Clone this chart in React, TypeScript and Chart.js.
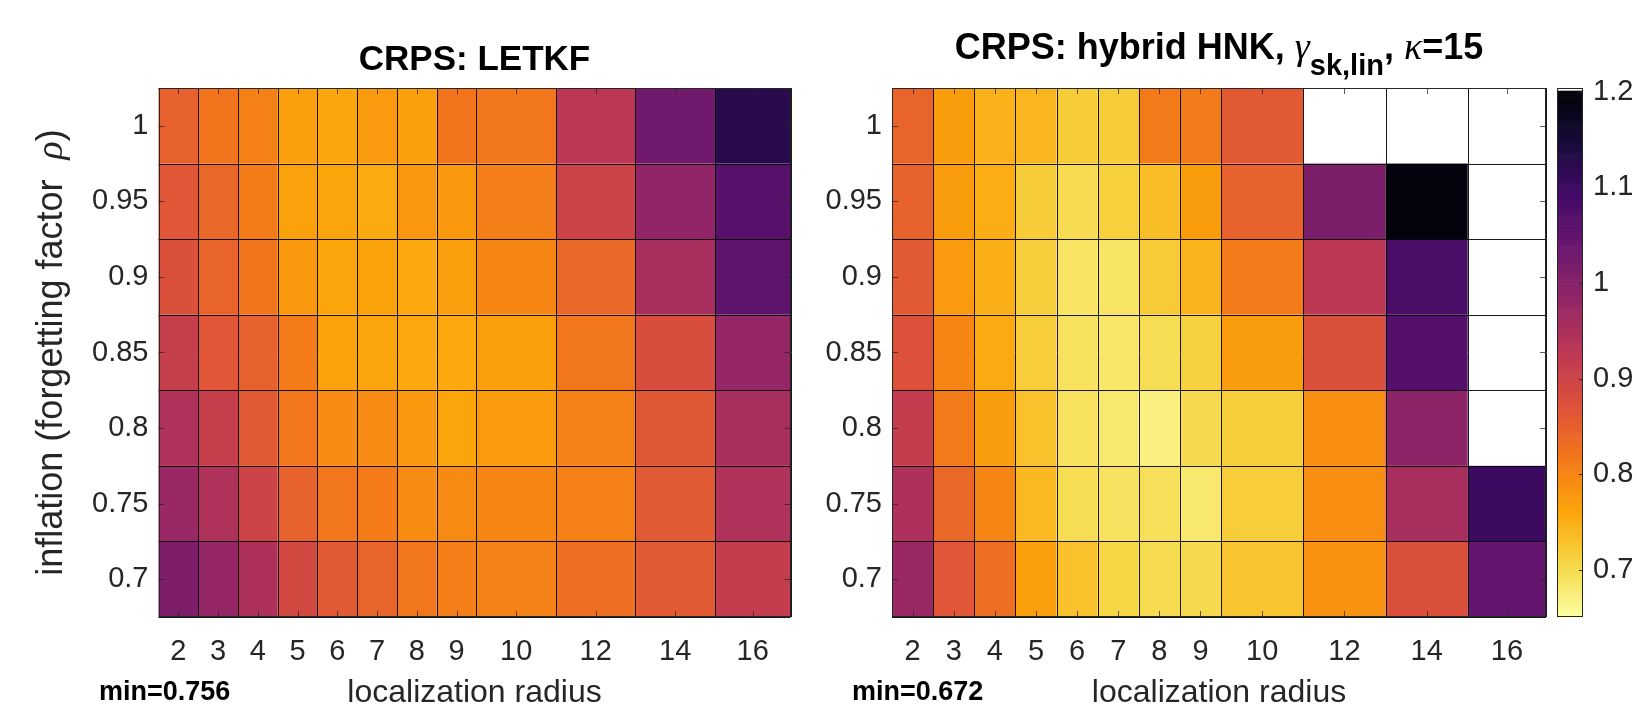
import React, { useEffect, useRef } from "react";
import { Chart, registerables } from "chart.js";

Chart.register(...registerables);

// ---------------- data ----------------
const radiusLabels = ["2", "3", "4", "5", "6", "7", "8", "9", "10", "12", "14", "16"];
const inflationRho = [1, 0.95, 0.9, 0.85, 0.8, 0.75, 0.7];

// CRPS, LETKF (rows: rho = 1 ... 0.7, columns: radius 2 ... 16)
const letkfCrps: number[][] = [
  [0.850, 0.823, 0.807, 0.768, 0.760, 0.775, 0.768, 0.823, 0.820, 0.927, 1.030, 1.125],
  [0.865, 0.840, 0.812, 0.766, 0.762, 0.756, 0.778, 0.776, 0.810, 0.900, 0.985, 1.065],
  [0.875, 0.845, 0.823, 0.776, 0.762, 0.765, 0.758, 0.768, 0.800, 0.840, 0.955, 1.055],
  [0.910, 0.865, 0.850, 0.812, 0.765, 0.762, 0.758, 0.758, 0.768, 0.820, 0.880, 0.980],
  [0.945, 0.910, 0.860, 0.820, 0.793, 0.795, 0.776, 0.762, 0.774, 0.805, 0.862, 0.955],
  [0.975, 0.945, 0.900, 0.848, 0.820, 0.813, 0.792, 0.795, 0.800, 0.806, 0.860, 0.945],
  [1.011, 0.980, 0.948, 0.890, 0.860, 0.845, 0.820, 0.810, 0.805, 0.830, 0.858, 0.915],
];

// CRPS, hybrid HNK (null = diverged, drawn with the top (white) colour of the map)
const hybridCrps: (number | null)[][] = [
  [0.845, 0.772, 0.748, 0.743, 0.718, 0.718, 0.815, 0.815, 0.860, null, null, null],
  [0.848, 0.772, 0.753, 0.718, 0.700, 0.714, 0.735, 0.772, 0.848, 1.013, 1.195, null],
  [0.860, 0.775, 0.750, 0.715, 0.690, 0.688, 0.720, 0.745, 0.815, 0.925, 1.080, null],
  [0.873, 0.800, 0.755, 0.717, 0.693, 0.686, 0.698, 0.712, 0.772, 0.875, 1.067, null],
  [0.914, 0.815, 0.772, 0.730, 0.693, 0.683, 0.672, 0.703, 0.715, 0.790, 0.990, null],
  [0.948, 0.840, 0.800, 0.740, 0.698, 0.692, 0.695, 0.683, 0.717, 0.790, 0.955, 1.100],
  [0.975, 0.865, 0.830, 0.768, 0.730, 0.707, 0.700, 0.703, 0.727, 0.785, 0.875, 1.047],
];

const colorbarTicks = [0.7, 0.8, 0.9, 1, 1.1, 1.2];
const colorMin = 0.651;
const colorMax = 1.204;
const letkfMin = "min=0.756";
const hybridMin = "min=0.672";

// ---------------- layout / style ----------------
// relative width of each column cell on the x axis
const COLUMN_SPAN = [1, 1, 1, 1, 1, 1, 1, 1, 2, 2, 2, 1.9];
const COL_EDGES: number[] = [0];
COLUMN_SPAN.forEach((s, i) => COL_EDGES.push(COL_EDGES[i] + s));
const COL_CENTERS = COLUMN_SPAN.map((s, i) => COL_EDGES[i] + s / 2);
const ROW_HALF = 0.025;

const FONT = "'Liberation Sans', Arial, Helvetica, sans-serif";
const SERIF = "'Liberation Serif', 'DejaVu Serif', serif";
const TXT = "#262626";
const TICK_SIZE = 29;
const XLABEL_SIZE = 32;
const YLABEL_SIZE = 36;
const CANVAS_H = 707;
const PLOT_TOP = 88;
const PLOT_BOTTOM = 617;

const INFERNO: [number, number, number][] = [
  [0, 0, 4], [22, 11, 57], [66, 10, 104], [106, 23, 110], [147, 38, 103],
  [188, 55, 84], [221, 81, 58], [243, 120, 25], [252, 165, 10], [246, 215, 70], [252, 255, 164],
];

function inferno(s: number): string {
  const t = Math.max(0, Math.min(1, s)) * (INFERNO.length - 1);
  const i = Math.min(INFERNO.length - 2, Math.floor(t));
  const f = t - i;
  const a = INFERNO[i], b = INFERNO[i + 1];
  const c = a.map((v, k) => Math.round(v + (b[k] - v) * f));
  return `rgb(${c[0]},${c[1]},${c[2]})`;
}

// reversed inferno between colorMin and colorMax; values past the top are white
function colorFor(v: number | null): string {
  if (v === null || v >= colorMax - 0.002) return "#ffffff";
  const t = (v - colorMin) / (colorMax - colorMin);
  return inferno(1 - t);
}

function fmt(v: number): string {
  return String(Math.round(v * 1000) / 1000);
}

type TitlePiece = { text: string; font: string; dy?: number };

function drawPieces(ctx: CanvasRenderingContext2D, pieces: TitlePiece[], cx: number, y: number, color: string) {
  let total = 0;
  const widths = pieces.map((p) => {
    ctx.font = p.font;
    const w = ctx.measureText(p.text).width;
    total += w;
    return w;
  });
  let x = cx - total / 2;
  ctx.fillStyle = color;
  ctx.textAlign = "left";
  ctx.textBaseline = "alphabetic";
  pieces.forEach((p, i) => {
    ctx.font = p.font;
    ctx.fillText(p.text, x, y + (p.dy || 0));
    x += widths[i];
  });
}

function makeHeatmapConfig(
  values: (number | null)[][],
  yAxisWidth: number,
  padRight: number,
  title: TitlePiece[],
  titleBaseline: number,
  minText: string,
  minX: number,
  withYLabel: boolean
): any {
  const points: { x: number; y: number; v: number | null }[] = [];
  values.forEach((row, r) =>
    row.forEach((v, c) => points.push({ x: COL_CENTERS[c], y: inflationRho[r], v }))
  );

  const heatmap = {
    id: "heatmapCells",
    beforeDatasetsDraw(chart: any) {
      const { ctx, scales } = chart;
      const xs = scales.x, ys = scales.y;
      ctx.save();
      values.forEach((row, r) =>
        row.forEach((v, c) => {
          const x0 = xs.getPixelForValue(COL_EDGES[c]);
          const x1 = xs.getPixelForValue(COL_EDGES[c + 1]);
          const y0 = ys.getPixelForValue(inflationRho[r] + ROW_HALF);
          const y1 = ys.getPixelForValue(inflationRho[r] - ROW_HALF);
          ctx.fillStyle = colorFor(v);
          ctx.fillRect(x0, y0, x1 - x0, y1 - y0);
        })
      );
      // cell edges
      ctx.strokeStyle = "rgba(0,0,0,0.9)";
      ctx.lineWidth = 1;
      ctx.beginPath();
      COL_EDGES.forEach((e) => {
        const px = Math.round(xs.getPixelForValue(e)) + 0.5;
        ctx.moveTo(px, ys.getPixelForValue(inflationRho[0] + ROW_HALF));
        ctx.lineTo(px, ys.getPixelForValue(inflationRho[inflationRho.length - 1] - ROW_HALF));
      });
      inflationRho.forEach((rho, i) => {
        const edges = i === 0 ? [rho + ROW_HALF, rho - ROW_HALF] : [rho - ROW_HALF];
        edges.forEach((e) => {
          const py = Math.round(ys.getPixelForValue(e)) + 0.5;
          ctx.moveTo(xs.getPixelForValue(COL_EDGES[0]), py);
          ctx.lineTo(xs.getPixelForValue(COL_EDGES[COL_EDGES.length - 1]), py);
        });
      });
      ctx.stroke();
      ctx.restore();
    },
    afterDraw(chart: any) {
      const { ctx, scales, chartArea } = chart;
      const xs = scales.x, ys = scales.y;
      ctx.save();
      // box
      ctx.strokeStyle = TXT;
      ctx.lineWidth = 1;
      ctx.strokeRect(
        Math.round(chartArea.left) + 0.5,
        Math.round(chartArea.top) + 0.5,
        Math.round(chartArea.right - chartArea.left) - 1,
        Math.round(chartArea.bottom - chartArea.top) - 1
      );
      // inward tick marks
      ctx.strokeStyle = "rgba(38,38,38,0.75)";
      ctx.beginPath();
      const L = 6;
      COL_CENTERS.forEach((c) => {
        const px = Math.round(xs.getPixelForValue(c)) + 0.5;
        ctx.moveTo(px, chartArea.bottom);
        ctx.lineTo(px, chartArea.bottom - L);
        ctx.moveTo(px, chartArea.top);
        ctx.lineTo(px, chartArea.top + L);
      });
      inflationRho.forEach((rho) => {
        const py = Math.round(ys.getPixelForValue(rho)) + 0.5;
        ctx.moveTo(chartArea.left, py);
        ctx.lineTo(chartArea.left + L, py);
        ctx.moveTo(chartArea.right, py);
        ctx.lineTo(chartArea.right - L, py);
      });
      ctx.stroke();

      const cx = (chartArea.left + chartArea.right) / 2;
      // title
      drawPieces(ctx, title, cx, titleBaseline, "#000");
      // x label
      drawPieces(ctx, [{ text: "localization radius", font: `${XLABEL_SIZE}px ${FONT}` }], cx, 702, TXT);
      // min text
      ctx.font = `bold 27px ${FONT}`;
      ctx.fillStyle = "#000";
      ctx.textAlign = "left";
      ctx.fillText(minText, minX, 700);
      // y label
      if (withYLabel) {
        ctx.save();
        ctx.translate(50, (chartArea.top + chartArea.bottom) / 2);
        ctx.rotate(-Math.PI / 2);
        drawPieces(
          ctx,
          [
            { text: "inflation (forgetting factor  ", font: `${YLABEL_SIZE}px ${FONT}` },
            { text: "ρ", font: `italic ${YLABEL_SIZE + 2}px ${SERIF}` },
            { text: ")", font: `${YLABEL_SIZE}px ${FONT}` },
          ],
          0,
          12,
          TXT
        );
        ctx.restore();
      }
      ctx.restore();
    },
  };

  return {
    type: "scatter",
    data: {
      datasets: [{ data: points, pointRadius: 0, pointHoverRadius: 0 }],
    },
    plugins: [heatmap],
    options: {
      responsive: false,
      animation: false,
      devicePixelRatio: 1,
      events: [],
      layout: { padding: { top: PLOT_TOP, right: padRight, left: 0, bottom: 0 } },
      plugins: { legend: { display: false }, tooltip: { enabled: false }, title: { display: false } },
      scales: {
        x: {
          type: "linear",
          min: COL_EDGES[0],
          max: COL_EDGES[COL_EDGES.length - 1],
          grid: { display: false, drawTicks: false },
          border: { display: false },
          afterBuildTicks: (s: any) => {
            s.ticks = COL_CENTERS.map((v) => ({ value: v }));
          },
          afterFit: (s: any) => {
            s.height = CANVAS_H - PLOT_BOTTOM;
          },
          ticks: {
            autoSkip: false,
            maxRotation: 0,
            padding: 18,
            color: TXT,
            font: { family: FONT, size: TICK_SIZE },
            callback: (_v: any, i: number) => radiusLabels[i],
          },
        },
        y: {
          type: "linear",
          min: inflationRho[inflationRho.length - 1] - ROW_HALF,
          max: inflationRho[0] + ROW_HALF,
          grid: { display: false, drawTicks: false },
          border: { display: false },
          afterBuildTicks: (s: any) => {
            s.ticks = inflationRho.map((v) => ({ value: v }));
          },
          afterFit: (s: any) => {
            s.width = yAxisWidth;
          },
          ticks: {
            padding: 10,
            color: TXT,
            font: { family: FONT, size: TICK_SIZE },
            callback: (v: any) => fmt(Number(v)),
          },
        },
      },
    },
  };
}

function makeColorbarConfig(): any {
  const bar = {
    id: "colorbarFill",
    beforeDatasetsDraw(chart: any) {
      const { ctx, scales, chartArea } = chart;
      const ys = scales.y;
      const N = 256;
      ctx.save();
      for (let i = 0; i < N; i++) {
        const v0 = colorMin + ((colorMax - colorMin) * i) / N;
        const v1 = colorMin + ((colorMax - colorMin) * (i + 1)) / N;
        const p0 = ys.getPixelForValue(v0);
        const p1 = ys.getPixelForValue(v1);
        ctx.fillStyle = i === N - 1 ? "#ffffff" : colorFor((v0 + v1) / 2);
        ctx.fillRect(chartArea.left, p1, chartArea.right - chartArea.left, p0 - p1 + 0.6);
      }
      ctx.restore();
    },
    afterDraw(chart: any) {
      const { ctx, scales, chartArea } = chart;
      const ys = scales.y;
      ctx.save();
      ctx.strokeStyle = TXT;
      ctx.lineWidth = 1;
      ctx.strokeRect(
        Math.round(chartArea.left) + 0.5,
        Math.round(chartArea.top) + 0.5,
        Math.round(chartArea.right - chartArea.left) - 1,
        Math.round(chartArea.bottom - chartArea.top) - 1
      );
      ctx.beginPath();
      colorbarTicks.forEach((t) => {
        const py = Math.round(ys.getPixelForValue(t)) + 0.5;
        ctx.moveTo(chartArea.right, py);
        ctx.lineTo(chartArea.right - 4, py);
      });
      ctx.stroke();
      ctx.restore();
    },
  };
  return {
    type: "scatter",
    data: { datasets: [{ data: colorbarTicks.map((t) => ({ x: 0.5, y: t })), pointRadius: 0 }] },
    plugins: [bar],
    options: {
      responsive: false,
      animation: false,
      devicePixelRatio: 1,
      events: [],
      layout: { padding: { top: PLOT_TOP, bottom: CANVAS_H - PLOT_BOTTOM, left: 7, right: 0 } },
      plugins: { legend: { display: false }, tooltip: { enabled: false } },
      scales: {
        x: { display: false, min: 0, max: 1 },
        y: {
          position: "right",
          min: colorMin,
          max: colorMax,
          grid: { display: false, drawTicks: false },
          border: { display: false },
          afterBuildTicks: (s: any) => {
            s.ticks = colorbarTicks.map((v) => ({ value: v }));
          },
          afterFit: (s: any) => {
            s.width = 54;
          },
          ticks: {
            padding: 10,
            color: TXT,
            font: { family: FONT, size: TICK_SIZE },
            callback: (v: any) => fmt(Number(v)),
          },
        },
      },
    },
  };
}

export default function App() {
  const leftRef = useRef<HTMLCanvasElement>(null);
  const rightRef = useRef<HTMLCanvasElement>(null);
  const cbRef = useRef<HTMLCanvasElement>(null);

  useEffect(() => {
    const left = new Chart(
      leftRef.current as HTMLCanvasElement,
      makeHeatmapConfig(
        letkfCrps,
        158.5,
        820 - 790.5,
        [{ text: "CRPS: LETKF", font: `bold 35px ${FONT}` }],
        70,
        letkfMin,
        99,
        true
      )
    );
    const tb = `bold 36px ${FONT}`;
    const right = new Chart(
      rightRef.current as HTMLCanvasElement,
      makeHeatmapConfig(
        hybridCrps,
        72,
        730 - 726,
        [
          { text: "CRPS: hybrid HNK, ", font: tb },
          { text: "γ", font: `italic 38px ${SERIF}` },
          { text: "sk,lin", font: `bold 29px ${FONT}`, dy: 16 },
          { text: ", ", font: tb },
          { text: "κ", font: `italic 38px ${SERIF}` },
          { text: "=15", font: tb },
        ],
        59,
        hybridMin,
        32,
        false
      )
    );
    const cb = new Chart(cbRef.current as HTMLCanvasElement, makeColorbarConfig());
    return () => {
      left.destroy();
      right.destroy();
      cb.destroy();
    };
  }, []);

  return (
    <div style={{ position: "fixed", left: 0, top: 0, width: 1637, height: 707, background: "#ffffff" }}>
      <canvas ref={leftRef} width={820} height={707} style={{ position: "absolute", left: 0, top: 0, width: 820, height: 707 }} />
      <canvas ref={rightRef} width={730} height={707} style={{ position: "absolute", left: 820, top: 0, width: 730, height: 707 }} />
      <canvas ref={cbRef} width={87} height={707} style={{ position: "absolute", left: 1550, top: 0, width: 87, height: 707 }} />
    </div>
  );
}
